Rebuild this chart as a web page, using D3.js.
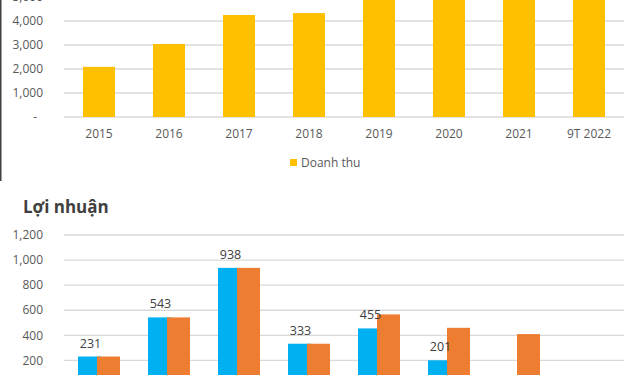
<!DOCTYPE html>
<html>
<head>
<meta charset="utf-8">
<script src="https://cdn.jsdelivr.net/npm/d3@7"></script>
<style>
  body { margin: 0; background: #fff; }
  svg { display: block; font-family: "Open Sans", sans-serif; }
</style>
</head>
<body>
<svg id="chart" width="640" height="375"></svg>
<script>
// data
var years = ["2015", "2016", "2017", "2018", "2019", "2020", "2021", "9T 2022"];
var revenue = [2090, 3040, 4250, 4330, 5600, 6200, 6000, 5300];
var revTicks = [0, 1000, 2000, 3000, 4000, 5000];
var profitA = [231, 543, 938, 333, 455, 201, null, null];
var profitB = [231, 543, 938, 333, 567, 460, 410, null];
var profitTicks = [0, 200, 400, 600, 800, 1000, 1200];

var svg = d3.select("#chart");
var fmt = d3.format(",");

var x = d3.scaleBand().domain(years).range([64, 624]).padding(0);
var c = (d) => x(d) + x.bandwidth() / 2;

// left frame line of the top panel
svg.append("line")
  .attr("x1", 0.75).attr("x2", 0.75)
  .attr("y1", 0).attr("y2", 181)
  .attr("stroke", "#404040").attr("stroke-width", 1.5);

// * top chart: Doanh thu
var y1 = d3.scaleLinear().domain([0, 5000]).range([117, -3]);

svg.append("g")
  .selectAll("line")
  .data(revTicks)
  .join("line")
  .attr("x1", 64).attr("x2", 624)
  .attr("y1", (d) => y1(d)).attr("y2", (d) => y1(d))
  .attr("stroke", "#d9d9d9").attr("stroke-width", 1.3);

svg.append("g")
  .selectAll("text")
  .data(revTicks)
  .join("text")
  .attr("x", (d) => (d === 0 ? 37 : 43))
  .attr("y", (d) => y1(d))
  .attr("dy", "0.35em")
  .attr("text-anchor", "end")
  .attr("font-size", 12)
  .attr("fill", "#595959")
  .text((d) => (d === 0 ? "-" : fmt(d)));

svg.append("g")
  .selectAll("rect")
  .data(years)
  .join("rect")
  .attr("x", (d) => c(d) - 16)
  .attr("width", 32)
  .attr("y", (d, i) => y1(revenue[i]))
  .attr("height", (d, i) => y1(0) - y1(revenue[i]))
  .attr("fill", "#ffc000");

svg.append("g")
  .selectAll("text")
  .data(years)
  .join("text")
  .attr("x", (d) => c(d))
  .attr("y", 138)
  .attr("text-anchor", "middle")
  .attr("font-size", 12)
  .attr("fill", "#595959")
  .text((d) => d);

// legend
svg.append("rect")
  .attr("x", 290).attr("y", 159)
  .attr("width", 7).attr("height", 7)
  .attr("fill", "#ffc000");
svg.append("text")
  .attr("x", 301).attr("y", 167)
  .attr("font-size", 12)
  .attr("fill", "#595959")
  .text("Doanh thu");

// * bottom chart: Lợi nhuận
svg.append("text")
  .attr("x", 23).attr("y", 213)
  .attr("font-size", 17)
  .attr("font-weight", 700)
  .attr("fill", "#404040")
  .text("Lợi nhuận");

var y2 = d3.scaleLinear().domain([0, 1200]).range([385.5, 235]);

svg.append("g")
  .selectAll("line")
  .data(profitTicks)
  .join("line")
  .attr("x1", 64).attr("x2", 624)
  .attr("y1", (d) => y2(d)).attr("y2", (d) => y2(d))
  .attr("stroke", "#d9d9d9").attr("stroke-width", 1.3);

svg.append("g")
  .selectAll("text")
  .data(profitTicks)
  .join("text")
  .attr("x", 43)
  .attr("y", (d) => y2(d))
  .attr("dy", "0.35em")
  .attr("text-anchor", "end")
  .attr("font-size", 12)
  .attr("fill", "#595959")
  .text((d) => fmt(d));

var blue = years.map((d, i) => ({ year: d, v: profitA[i] })).filter((d) => d.v != null);
var orange = years.map((d, i) => ({ year: d, v: profitB[i] })).filter((d) => d.v != null);

svg.append("g")
  .selectAll("rect")
  .data(blue)
  .join("rect")
  .attr("x", (d) => c(d.year) - 21)
  .attr("width", 23)
  .attr("y", (d) => y2(d.v))
  .attr("height", (d) => y2(0) - y2(d.v))
  .attr("fill", "#00b0f0");

svg.append("g")
  .selectAll("rect")
  .data(orange)
  .join("rect")
  .attr("x", (d) => c(d.year) - 2)
  .attr("width", 23)
  .attr("y", (d) => y2(d.v))
  .attr("height", (d) => y2(0) - y2(d.v))
  .attr("fill", "#ed7d31");

svg.append("g")
  .selectAll("text")
  .data(blue)
  .join("text")
  .attr("x", (d) => c(d.year) - 8.5)
  .attr("y", (d) => y2(d.v) - 9)
  .attr("text-anchor", "middle")
  .attr("font-size", 12.5)
  .attr("fill", "#404040")
  .text((d) => d.v);
</script>
</body>
</html>
